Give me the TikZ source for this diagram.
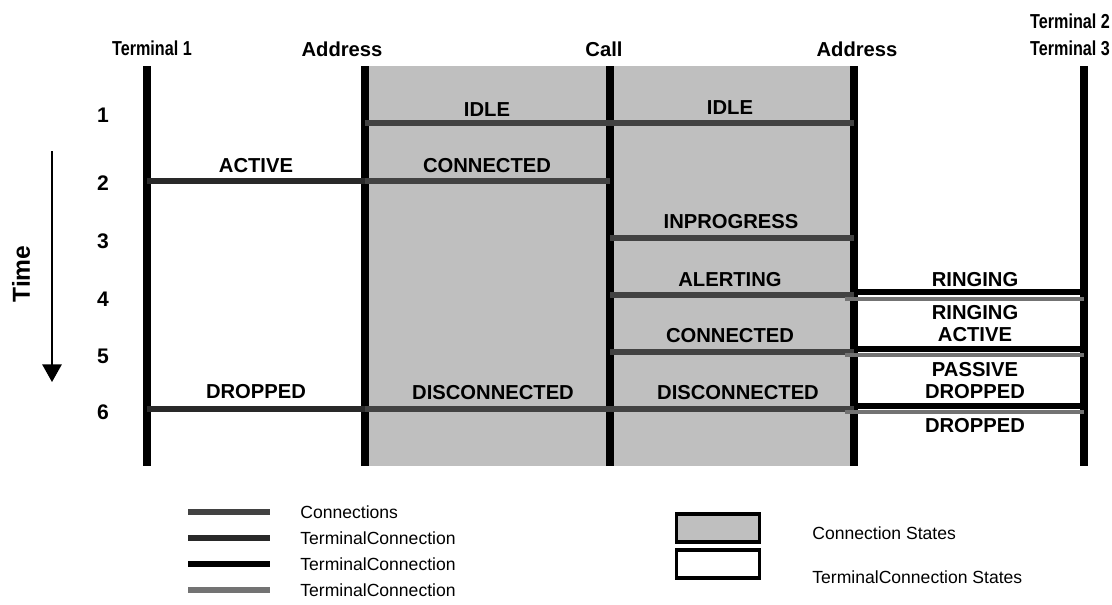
\documentclass[tikz,border=0pt]{standalone}
\usepackage{fontspec}
\usepackage{graphicx}
\setmainfont{Liberation Sans}
\usetikzlibrary{arrows.meta}
\begin{document}
\begin{tikzpicture}[x=0.02cm,y=-0.02cm,
  hdr/.style={font=\fontsize{11.5}{13}\selectfont\bfseries, inner sep=0pt},
  lbl/.style={font=\fontsize{11.5}{13}\selectfont\bfseries, inner sep=0pt, align=center},
  num/.style={font=\fontsize{12}{13}\selectfont\bfseries, inner sep=0pt},
  leg/.style={font=\fontsize{10}{12}\selectfont, inner sep=0pt, anchor=west},
  vline/.style={line width=4.4pt, black},
  conn/.style={line width=3.4pt, black!74},
  tcdark/.style={line width=3.4pt, black!84},
  tcblack/.style={line width=3.4pt, black},
  tclight/.style={line width=2.6pt, black!55},
  cstate/.style={fill=black!25},
  legbox/.style={draw=black, line width=1.8pt, minimum width=1.66cm, minimum height=0.56cm, inner sep=0pt},
  timearrow/.style={line width=0.9pt, -{Triangle[length=10pt,width=11pt]}}
]
\useasboundingbox (0,0) rectangle (1112,605);

% column coordinates
\coordinate (T1t) at (147,66);  \coordinate (T1b) at (147,466);
\coordinate (A1t) at (365,66);  \coordinate (A1b) at (365,466);
\coordinate (Ct)  at (610,66);  \coordinate (Cb)  at (610,466);
\coordinate (A2t) at (854,66);  \coordinate (A2b) at (854,466);
\coordinate (A2g) at (845,66);
\coordinate (T3t) at (1084,66); \coordinate (T3b) at (1084,466);

% row coordinates
\coordinate (r1) at (0,123);
\coordinate (r2) at (0,181);
\coordinate (r3) at (0,238);
\coordinate (r4) at (0,295);
\coordinate (r5) at (0,352);
\coordinate (r6) at (0,409);
\coordinate (r4b) at (0,292); \coordinate (r4g) at (0,299);
\coordinate (r5b) at (0,349); \coordinate (r5g) at (0,355);
\coordinate (r6b) at (0,406); \coordinate (r6g) at (0,412);

% connection state area
\fill[cstate] (A1t) rectangle (A2b);

% vertical lines
\draw[vline] (T1t) -- (T1b);
\draw[vline] (A1t) -- (A1b);
\draw[vline] (Ct) -- (Cb);
\draw[vline] (A2t) -- (A2b);
\draw[vline] (T3t) -- (T3b);

% horizontal transitions
\draw[conn] (A1t |- r1) -- (A2t |- r1);
\draw[tcdark] (T1t |- r2) -- (A1t |- r2);
\draw[conn] (A1t |- r2) -- (Ct |- r2);
\draw[conn] (Ct |- r3) -- (A2t |- r3);
\draw[conn] (Ct |- r4) -- (A2t |- r4);
\draw[tcblack] (A2t |- r4b) -- (T3t |- r4b);
\draw[tclight] (A2g |- r4g) -- (T3t |- r4g);
\draw[conn] (Ct |- r5) -- (A2t |- r5);
\draw[tcblack] (A2t |- r5b) -- (T3t |- r5b);
\draw[tclight] (A2g |- r5g) -- (T3t |- r5g);
\draw[tcdark] (T1t |- r6) -- (A1t |- r6);
\draw[conn] (A1t |- r6) -- (A2t |- r6);
\draw[tcblack] (A2t |- r6b) -- (T3t |- r6b);
\draw[tclight] (A2g |- r6g) -- (T3t |- r6g);

% headers
\node[hdr] (h1) at (152,48) {\scalebox{0.8}[1]{Terminal 1}};
\node[hdr] (h2) at (342,49) {Address};
\node[hdr] (h3) at (604,49) {Call};
\node[hdr] (h4) at (857,49) {Address};
\node[hdr] (h5) at (1070,21) {\scalebox{0.8}[1]{Terminal 2}};
\node[hdr] (h6) at (1070,48) {\scalebox{0.8}[1]{Terminal 3}};

% row numbers
\node[num] (n1) at (103,115) {1};
\node[num] (n2) at (103,183) {2};
\node[num] (n3) at (103,241) {3};
\node[num] (n4) at (103,299) {4};
\node[num] (n5) at (103,356) {5};
\node[num] (n6) at (103,412) {6};

% time
\coordinate (ta) at (52,151);
\coordinate (tb) at (52,382);
\draw[timearrow] (ta) -- (tb);
\node[font=\fontsize{14}{15}\selectfont\bfseries, rotate=90, inner sep=0pt] (time) at (21,274) {Time};

% state labels
\node[lbl] (s1) at (487,110) {IDLE};
\node[lbl] (s2) at (730,108) {IDLE};
\node[lbl] (s3) at (256,166) {ACTIVE};
\node[lbl] (s4) at (487,166) {CONNECTED};
\node[lbl] (s5) at (731,222) {INPROGRESS};
\node[lbl] (s6) at (730,280) {ALERTING};
\node[lbl] (s7) at (975,280) {RINGING};
\node[lbl] (s8) at (975,313) {RINGING};
\node[lbl] (s9) at (975,335) {ACTIVE};
\node[lbl] (s10) at (730,336) {CONNECTED};
\node[lbl] (s11) at (975,370) {PASSIVE};
\node[lbl] (s12) at (975,392) {DROPPED};
\node[lbl] (s13) at (256,392) {DROPPED};
\node[lbl] (s14) at (493,393) {DISCONNECTED};
\node[lbl] (s15) at (738,393) {DISCONNECTED};
\node[lbl] (s16) at (975,426) {DROPPED};

% legend lines
\coordinate (l1a) at (188,512); \coordinate (l1b) at (270,512);
\coordinate (l2a) at (188,538); \coordinate (l2b) at (270,538);
\coordinate (l3a) at (188,564); \coordinate (l3b) at (270,564);
\coordinate (l4a) at (188,590); \coordinate (l4b) at (270,590);
\draw[conn] (l1a) -- (l1b);
\draw[tcdark] (l2a) -- (l2b);
\draw[tcblack] (l3a) -- (l3b);
\draw[tclight, line width=3.2pt] (l4a) -- (l4b);
\node[leg] (g1) at (300,512) {Connections};
\node[leg] (g2) at (300,538) {TerminalConnection};
\node[leg] (g3) at (300,564) {TerminalConnection};
\node[leg] (g4) at (300,590) {TerminalConnection};

% legend boxes
\node[legbox, fill=black!25] (bx1) at (718,528) {};
\node[legbox, fill=white] (bx2) at (718,564) {};
\node[leg] (g5) at (812,533) {Connection States};
\node[leg] (g6) at (812,577) {TerminalConnection States};
\end{tikzpicture}
\end{document}
